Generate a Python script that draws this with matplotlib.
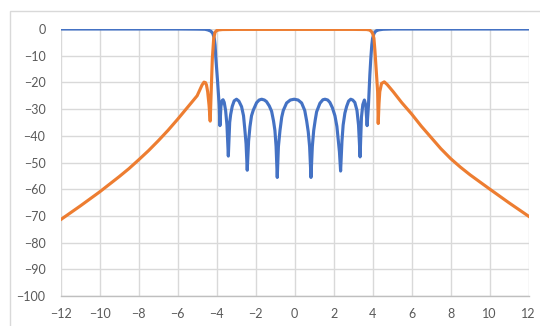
import numpy as np
from matplotlib import pyplot as plt
from matplotlib.patches import Rectangle

# S21 (orange)
s21_x = [-12, -11, -10, -9, -8.5, -8, -7.5, -7, -6.5, -6, -5.5, -5, -4.85, -4.75,
         -4.65, -4.57, -4.52, -4.46, -4.39, -4.33, -4.28, -4.22, -4.15, -4.08, -4.0,
         -3.9, -3.7, -3, -2, 0, 2, 3, 3.7, 3.85, 3.95, 4.02, 4.07, 4.12, 4.17, 4.22,
         4.26, 4.29, 4.33, 4.37, 4.46, 4.6, 4.75, 5.06, 5.5, 6, 6.5, 7, 7.5, 8, 8.5,
         9, 10, 11, 12]
s21_y = [-71.4, -66.3, -61.0, -55.3, -52.3, -49.0, -45.6, -41.9, -38.0, -33.8, -29.4,
         -25.0, -22.6, -21.0, -19.9, -20.1, -21.0, -23.5, -28.5, -34.5, -23.5, -11.0,
         -3.5, -1.2, -0.6, -0.35, -0.2, -0.15, -0.15, -0.15, -0.15, -0.15, -0.2, -0.4,
         -1.0, -2.0, -3.5, -8.0, -13.5, -19.0, -23.5, -35.4, -28.0, -23.5, -20.4,
         -19.8, -20.8, -23.5, -27.6, -31.8, -36.4, -40.6, -44.8, -48.5, -51.7, -54.6,
         -59.9, -65.1, -70.1]

# S11 (blue)
s11_x = [-12, -8, -6, -5, -4.6, -4.45, -4.3, -4.2, -4.12, -4.08, -4.04, -3.95, -3.87,
         -3.83, -3.78, -3.72, -3.67, -3.61, -3.54, -3.47, -3.40, -3.33, -3.28, -3.2,
         -3.1, -2.98, -2.86, -2.72, -2.62, -2.55, -2.49, -2.43, -2.36, -2.29, -2.21,
         -2.12, -1.95, -1.82, -1.69, -1.55, -1.44, -1.3, -1.18, -1.08, -1.01, -0.95,
         -0.89, -0.83, -0.75, -0.66, -0.58, -0.41, -0.22, -0.02, 0.18, 0.36, 0.52,
         0.62, 0.70, 0.77, 0.84, 0.91, 0.98, 1.06, 1.13, 1.3, 1.45, 1.56, 1.7, 1.81,
         1.94, 2.07, 2.17, 2.24, 2.30, 2.36, 2.43, 2.49, 2.58, 2.67, 2.77, 2.88, 2.98,
         3.09, 3.2, 3.28, 3.36, 3.43, 3.5, 3.58, 3.65, 3.72, 3.79, 3.86, 3.91, 3.96,
         4.0, 4.08, 4.17, 4.3, 4.54, 5, 8, 12]
s11_y = [0, 0, 0, -0.05, -0.1, -0.35, -0.8, -1.6, -3.5, -6.0, -11.0, -19.8, -28.5,
         -36.2, -29.0, -26.8, -26.5, -27.5, -30.5, -36.0, -47.6, -35.0, -32.0, -29.0,
         -26.9, -26.3, -27.0, -29.1, -32.5, -37.9, -43.0, -52.9, -42.0, -36.6, -32.5,
         -30.4, -27.6, -26.6, -26.3, -26.6, -27.2, -28.8, -30.8, -34.5, -38.0, -44.0,
         -55.6, -44.0, -38.0, -33.0, -30.5, -27.7, -26.6, -26.3, -26.6, -27.7, -30.5,
         -34.5, -38.5, -44.0, -55.6, -44.0, -38.0, -34.0, -31.0, -27.8, -26.5, -26.3,
         -26.6, -27.5, -29.5, -32.5, -36.5, -41.6, -46.0, -53.2, -42.0, -36.0, -31.5,
         -29.0, -27.0, -26.3, -26.6, -27.5, -30.5, -36.0, -47.9, -33.0, -28.3, -26.6,
         -28.5, -36.2, -28.5, -17.2, -11.0, -6.0, -3.5, -1.6, -0.75, -0.35, -0.1, 0,
         0, 0]

x_ticks = np.arange(-12, 13, 2)
y_ticks = np.arange(-100, 1, 10)

plt.rcParams['font.family'] = ['Lato', 'DejaVu Sans']

fig = plt.figure(figsize=(5.4, 3.26), dpi=100)
fig.patches.append(Rectangle((10 / 540, -0.1), 1.2, 1 - 10.5 / 326 + 0.1,
                             transform=fig.transFigure, fill=False,
                             edgecolor='#D9D9D9', lw=1))
ax = fig.add_axes([60.7 / 540, 1 - 296 / 326, (528.5 - 60.7) / 540, (296 - 29) / 326])

ax.plot(s11_x, s11_y, color='#4472C4', lw=2.25, zorder=3)
ax.plot(s21_x, s21_y, color='#ED7D31', lw=2.25, zorder=4)

ax.set_xlim(-12, 12)
ax.set_ylim(-100, 0)
ax.set_xticks(x_ticks)
ax.set_yticks(y_ticks)
ax.grid(True, color='#D9D9D9', lw=1)
ax.set_axisbelow(True)
for side in ['top', 'right', 'left']:
    ax.spines[side].set_visible(False)
ax.spines['bottom'].set_color('#BFBFBF')
ax.spines['bottom'].set_linewidth(1)
ax.tick_params(length=0, labelsize=9, colors='#595959')
ax.tick_params(axis='y', pad=11)
ax.tick_params(axis='x', pad=9)

fig.savefig('out.png', dpi=100)
